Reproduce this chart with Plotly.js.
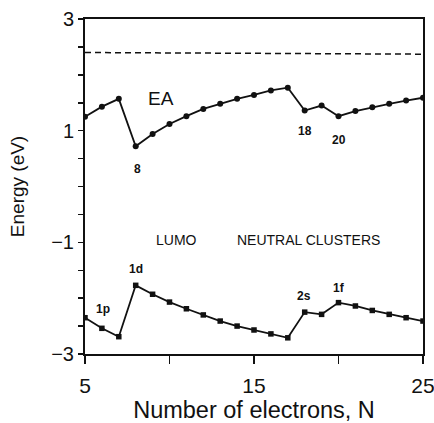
<!DOCTYPE html>
<html>
<head>
<meta charset="utf-8">
<script src="https://cdn.plot.ly/plotly-3.0.1.min.js"></script>
<style>html,body{margin:0;padding:0;background:#fff;}#chart{width:434px;height:423px;}</style>
</head>
<body>
<div id="chart"></div>
<script>
// Data
var N = [5,6,7,8,9,10,11,12,13,14,15,16,17,18,19,20,21,22,23,24,25];
var EA = [1.25,1.43,1.57,0.72,0.94,1.12,1.26,1.39,1.48,1.57,1.64,1.72,1.77,1.36,1.45,1.26,1.35,1.42,1.48,1.54,1.59];
var LUMO = [-2.35,-2.54,-2.69,-1.77,-1.93,-2.07,-2.19,-2.30,-2.41,-2.50,-2.57,-2.64,-2.71,-2.25,-2.29,-2.08,-2.14,-2.22,-2.29,-2.35,-2.41];
var dashX = [5,25];
var dashY = [2.40,2.37];
var xTickVals = [5,10,15,20,25];
var xTickText = ['5','','15','','25'];
var yTickVals = [-3,-2.5,-2,-1.5,-1,-0.5,0,0.5,1,1.5,2,2.5,3];
var yTickText = ['\u22123','','','','\u22121','','','','1','','','','3'];
var labels = [
  {x:9.5, y:1.58, text:'EA', size:19, bold:false},
  {x:8.1, y:0.31, text:'8', size:12, bold:true},
  {x:18.0, y:1.0, text:'18', size:12, bold:true},
  {x:20.0, y:0.83, text:'20', size:12, bold:true},
  {x:10.43, y:-0.95, text:'LUMO', size:14, bold:false},
  {x:18.23, y:-0.95, text:'NEUTRAL CLUSTERS', size:14, bold:false},
  {x:8.02, y:-1.47, text:'1d', size:12, bold:true},
  {x:6.05, y:-2.20, text:'1p', size:12, bold:true},
  {x:17.97, y:-1.96, text:'2s', size:12, bold:true},
  {x:20.0, y:-1.81, text:'1f', size:12, bold:true}
];

var ink = '#111';
var traces = [
  {x:dashX, y:dashY, mode:'lines', line:{color:ink, width:1.5, dash:'6px,4px'}, hoverinfo:'skip'},
  {x:N, y:EA, mode:'lines+markers', line:{color:ink, width:1.8}, marker:{symbol:'circle', size:6, color:ink}},
  {x:N, y:LUMO, mode:'lines+markers', line:{color:ink, width:1.8}, marker:{symbol:'square', size:5.5, color:ink}}
];

var fontFam = 'Liberation Sans, Arial, sans-serif';
var layout = {
  width:434, height:423,
  margin:{l:85, r:11, t:19, b:69},
  paper_bgcolor:'#fff', plot_bgcolor:'#fff',
  showlegend:false,
  font:{family:fontFam, color:ink},
  xaxis:{
    range:[5,25], tickmode:'array', tickvals:xTickVals, ticktext:xTickText,
    ticks:'outside', ticklen:8, tickwidth:1.5, tickcolor:ink,
    showline:true, linecolor:ink, linewidth:2, mirror:true,
    showgrid:false, zeroline:false, ticklabeloverflow:'allow', ticklabelstandoff:4,
    tickfont:{size:21, family:fontFam, color:ink},
    title:{text:'Number of electrons, N', font:{size:23.5, family:fontFam, color:ink}, standoff:4}
  },
  yaxis:{
    range:[-3,3], tickmode:'array', tickvals:yTickVals, ticktext:yTickText,
    ticks:'outside', ticklen:5, tickwidth:1.5, tickcolor:ink,
    showline:true, linecolor:ink, linewidth:2, mirror:true,
    showgrid:false, zeroline:false, ticklabeloverflow:'allow',
    tickfont:{size:20, family:fontFam, color:ink},
    title:{text:'Energy (eV)', font:{size:19, family:fontFam, color:ink}, standoff:22}
  },
  annotations: labels.map(function(l){
    return {x:l.x, y:l.y, xref:'x', yref:'y', text:l.bold ? '<b>'+l.text+'</b>' : l.text,
      showarrow:false, font:{size:l.size, family:fontFam, color:ink}};
  })
};

Plotly.newPlot('chart', traces, layout, {displayModeBar:false, staticPlot:true});
</script>
</body>
</html>
